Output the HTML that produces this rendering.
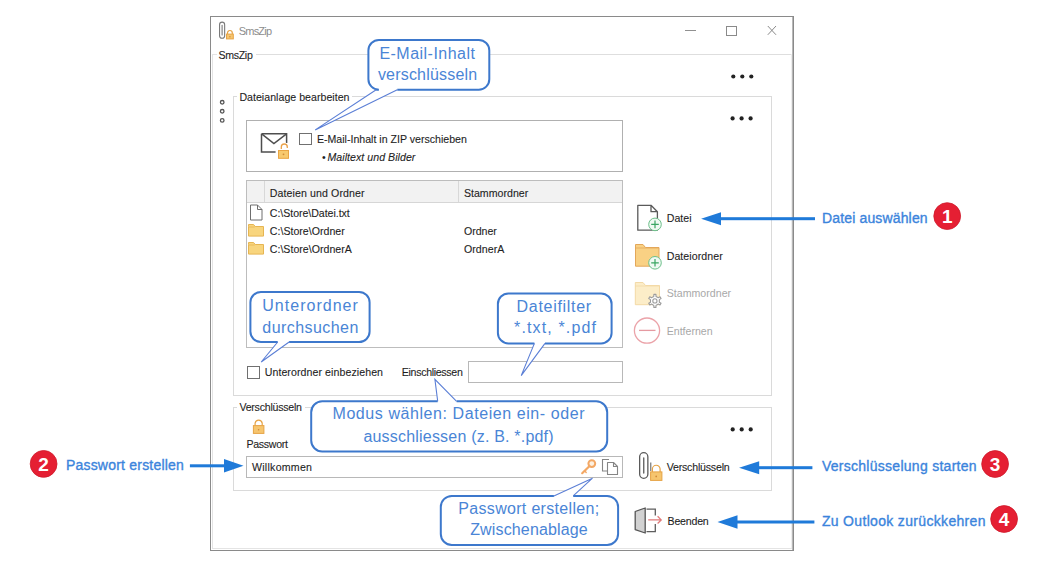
<!DOCTYPE html>
<html><head><meta charset="utf-8"><style>
html,body{margin:0;padding:0;background:#fff;width:1046px;height:572px;overflow:hidden}
.t{position:absolute;font-family:'Liberation Sans', sans-serif;line-height:1;white-space:pre}
svg{position:absolute;left:0;top:0}
</style></head><body>
<svg width="1046" height="572" viewBox="0 0 1046 572"><rect x="210" y="16" width="584" height="1" fill="#8a8a8a"/><rect x="210" y="550" width="584" height="1" fill="#8a8a8a"/><rect x="210" y="16" width="1" height="535" fill="#8a8a8a"/><rect x="793" y="16" width="1" height="535" fill="#8a8a8a"/><rect x="792" y="17" width="1" height="533" fill="#b8b8b8"/><rect x="212" y="54" width="5" height="1" fill="#e4e4e4"/><rect x="256" y="54" width="536" height="1" fill="#dedede"/><rect x="212" y="54" width="1" height="495" fill="#e4e4e4"/><rect x="791" y="54" width="1" height="495" fill="#eeeeee"/><rect x="212" y="548" width="580" height="1" fill="#e4e4e4"/><rect x="233" y="96" width="4" height="1" fill="#dadada"/><rect x="352" y="96" width="420" height="1" fill="#dadada"/><rect x="233" y="96" width="1" height="300" fill="#dadada"/><rect x="771" y="96" width="1" height="300" fill="#dadada"/><rect x="233" y="395" width="539" height="1" fill="#dadada"/><rect x="233" y="407" width="4" height="1" fill="#dadada"/><rect x="305" y="407" width="467" height="1" fill="#dadada"/><rect x="233" y="407" width="1" height="84" fill="#dadada"/><rect x="771" y="407" width="1" height="84" fill="#dadada"/><rect x="233" y="490" width="539" height="1" fill="#dadada"/><rect x="246" y="120" width="377" height="1" fill="#b0b0b0"/><rect x="246" y="171" width="377" height="1" fill="#b0b0b0"/><rect x="246" y="120" width="1" height="52" fill="#b0b0b0"/><rect x="622" y="120" width="1" height="52" fill="#b0b0b0"/><rect x="246" y="180" width="377" height="1" fill="#bdbdbd"/><rect x="246" y="347" width="377" height="1" fill="#bdbdbd"/><rect x="246" y="180" width="1" height="168" fill="#bdbdbd"/><rect x="622" y="180" width="1" height="168" fill="#bdbdbd"/><rect x="247" y="181" width="375" height="21" fill="#f2f2f2"/><rect x="247" y="202" width="375" height="1" fill="#d6d6d6"/><rect x="264" y="181" width="1" height="21" fill="#d8d8d8"/><rect x="458" y="181" width="1" height="21" fill="#d8d8d8"/><rect x="299" y="133" width="13" height="1" fill="#707070"/><rect x="299" y="144" width="13" height="1" fill="#707070"/><rect x="299" y="133" width="1" height="12" fill="#707070"/><rect x="311" y="133" width="1" height="12" fill="#707070"/><rect x="247" y="366" width="13" height="1" fill="#707070"/><rect x="247" y="378" width="13" height="1" fill="#707070"/><rect x="247" y="366" width="1" height="13" fill="#707070"/><rect x="259" y="366" width="1" height="13" fill="#707070"/><rect x="468" y="361" width="155" height="1" fill="#b8b8b8"/><rect x="468" y="382" width="155" height="1" fill="#b8b8b8"/><rect x="468" y="361" width="1" height="22" fill="#b8b8b8"/><rect x="622" y="361" width="1" height="22" fill="#b8b8b8"/><rect x="246" y="456" width="377" height="1" fill="#b8b8b8"/><rect x="246" y="477" width="377" height="1" fill="#b8b8b8"/><rect x="246" y="456" width="1" height="22" fill="#b8b8b8"/><rect x="622" y="456" width="1" height="22" fill="#b8b8b8"/><rect x="685" y="30" width="11" height="1" fill="#909090"/><rect x="726.5" y="26.5" width="10" height="9" fill="none" stroke="#8a8a8a" stroke-width="1"/><path d="M767.8 26 L776 34.8 M776 26 L767.8 34.8" stroke="#8a8a8a" stroke-width="1"/><circle cx="733.3" cy="76.5" r="2.1" fill="#222"/><circle cx="742.3" cy="76.5" r="2.1" fill="#222"/><circle cx="751.3" cy="76.5" r="2.1" fill="#222"/><circle cx="732.6" cy="118.4" r="2.1" fill="#222"/><circle cx="741.6" cy="118.4" r="2.1" fill="#222"/><circle cx="750.6" cy="118.4" r="2.1" fill="#222"/><circle cx="732.7" cy="429.4" r="2.1" fill="#222"/><circle cx="741.7" cy="429.4" r="2.1" fill="#222"/><circle cx="750.7" cy="429.4" r="2.1" fill="#222"/><circle cx="222.2" cy="102.3" r="1.8" fill="none" stroke="#555" stroke-width="1.3"/><circle cx="222.2" cy="111.3" r="1.8" fill="none" stroke="#555" stroke-width="1.3"/><circle cx="222.2" cy="120.4" r="1.8" fill="none" stroke="#555" stroke-width="1.3"/><path d="M224.65 24.70 V35.70 A2.55 2.55 0 0 1 219.55 35.70 V24.70 A2.55 2.55 0 0 1 224.65 24.70 Z" fill="none" stroke="#7a7a7a" stroke-width="1.1"/><path d="M222.10 25.38 V35.02" stroke="#7a7a7a" stroke-width="1.1" stroke-linecap="round"/><path d="M227.5 34.1 V32.9 A2.4 2.4 0 0 1 232.3 32.9 V34.1" fill="none" stroke="#e6a345" stroke-width="1.2"/><rect x="226.5" y="34.1" width="6.8" height="4.8" fill="#f6c56e" stroke="#e6a345" stroke-width="1"/><circle cx="229.9" cy="36.8" r="0.70" fill="#cf8a3a"/><path d="M261.5 133.8 H286.6 V143 M275.6 152 H261.5 V133.8" fill="none" stroke="#4e4e4e" stroke-width="1.5"/><path d="M262 134.2 L273.9 143.6 L286.2 134.2" fill="none" stroke="#4e4e4e" stroke-width="1.5"/><path d="M281.3 150 V147 A3 3 0 0 1 287.3 147 V148" fill="none" stroke="#fff" stroke-width="3"/><path d="M281.3 150 V147 A3 3 0 0 1 287.3 147 V148" fill="none" stroke="#eaa24a" stroke-width="1.3"/><rect x="277.8" y="149.8" width="11.4" height="9.2" fill="#f7c96e" stroke="#fff" stroke-width="1.6"/><rect x="278.5" y="150.5" width="10" height="7.8" fill="#f7c96e" stroke="#e9a544" stroke-width="1"/><circle cx="283.5" cy="154.3" r="0.9" fill="#d08a3a"/><path d="M250.5 205.0 H257.5 L262.0 209.5 V220.0 H250.5 Z M257.5 205.0 V209.5 H262.0" fill="#fff" stroke="#6e6e6e" stroke-width="1" stroke-linejoin="round"/><path d="M248.5 226.5 V224.5 H253.6 L255.2 226.5 H263.5 V236.1 H248.5 Z" fill="#f8d57e" stroke="#e6b552" stroke-width="1"/><path d="M248.5 227 H254.72" stroke="#e6b552" stroke-width="0.8"/><path d="M248.5 244.5 V242.5 H253.6 L255.2 244.5 H263.5 V254.1 H248.5 Z" fill="#f8d57e" stroke="#e6b552" stroke-width="1"/><path d="M248.5 245 H254.72" stroke="#e6b552" stroke-width="0.8"/><path d="M637.8 205.3 H651 L657.4 211.7 V230.2 H637.8 Z M651 205.3 V211.7 H657.4" fill="#fff" stroke="#5a5a5a" stroke-width="1.3" stroke-linejoin="round"/><circle cx="655" cy="224.4" r="6.3" fill="#f0f9f3" stroke="#6cc08a" stroke-width="1"/><path d="M651.2 224.4 H658.8 M655 220.6 V228.2" stroke="#3aa563" stroke-width="1.2"/><path d="M635.5 248 V244.5 H643 L645.5 247.5 H659 V266.2 H635.5 Z" fill="#f9d184" stroke="#e3a75a" stroke-width="1"/><path d="M635.5 248 H659" stroke="#e3a75a" stroke-width="0.8"/><circle cx="655" cy="262.8" r="6.3" fill="#f0f9f3" stroke="#6cc08a" stroke-width="1"/><path d="M651.2 262.8 H658.8 M655 259.0 V266.6" stroke="#3aa563" stroke-width="1.2"/><path d="M635.3 286 V282.5 H643 L645.5 285.5 H659.5 V304.7 H635.3 Z" fill="#fcedc8" stroke="#f3d9a6" stroke-width="1"/><path d="M635.3 286 H659.5" stroke="#f3d9a6" stroke-width="0.8"/><polygon points="652.70,297.09 653.79,296.44 653.87,294.38 655.93,294.38 656.01,296.44 657.10,297.09 658.21,297.70 660.03,296.75 661.06,298.53 659.32,299.63 659.30,300.90 659.32,302.17 661.06,303.27 660.03,305.05 658.21,304.10 657.10,304.71 656.01,305.36 655.93,307.42 653.87,307.42 653.79,305.36 652.70,304.71 651.59,304.10 649.77,305.05 648.74,303.27 650.48,302.17 650.50,300.90 650.48,299.63 648.74,298.53 649.77,296.75 651.59,297.70" fill="#fff" stroke="#9c9c9c" stroke-width="1.1" stroke-linejoin="round"/><circle cx="654.9" cy="300.9" r="2.1" fill="#fff" stroke="#9c9c9c" stroke-width="1.1"/><circle cx="647" cy="330.6" r="12.6" fill="#fff" stroke="#eba3a9" stroke-width="1.3"/><path d="M639 330.4 H655.5" stroke="#e59aa1" stroke-width="1.3"/><path d="M255.1 425.6 V423.1 A3.6 3.6 0 0 1 262.2 423.1 V425.6" fill="none" stroke="#e6a345" stroke-width="1.2"/><rect x="253.4" y="425.6" width="10.5" height="7.8" fill="#f6c56e" stroke="#e6a345" stroke-width="1"/><circle cx="258.6" cy="429.7" r="0.81" fill="#cf8a3a"/><circle cx="591.8" cy="463.6" r="3.4" fill="#fdf0e0" stroke="#f3a865" stroke-width="2"/><path d="M589.3 466.3 L582.2 473.2" stroke="#f3a865" stroke-width="2.2" stroke-linecap="round"/><path d="M584.6 470.8 L586.2 472.4" stroke="#f3a865" stroke-width="1.4" stroke-linecap="round"/><path d="M609 459.5 H602.5 V471 H607" fill="none" stroke="#858585" stroke-width="1.1"/><path d="M607.5 462.5 H613.5 L617.5 466.5 V474.5 H607.5 Z M613.5 462.5 V466.5 H617.5" fill="#fff" stroke="#858585" stroke-width="1.1" stroke-linejoin="round"/><path d="M647.85 456.75 V474.25 A4.10 4.10 0 0 1 639.65 474.25 V456.75 A4.10 4.10 0 0 1 647.85 456.75 Z" fill="none" stroke="#5a5a5a" stroke-width="1.3"/><path d="M643.75 457.94 V473.06" stroke="#5a5a5a" stroke-width="1.3" stroke-linecap="round"/><path d="M650.8 462.5 V471" stroke="#5a5a5a" stroke-width="1"/><path d="M652.4 471.9 V469.1 A3.8 3.8 0 0 1 660.1 469.1 V471.9" fill="none" stroke="#e6a345" stroke-width="1.2"/><rect x="650.6" y="471.9" width="11.3" height="8.5" fill="#f6c56e" stroke="#e6a345" stroke-width="1"/><circle cx="656.2" cy="476.4" r="0.86" fill="#cf8a3a"/><path d="M646.5 509.2 H655.3 V515.5 M655.3 524 V531.6 H646.5" fill="none" stroke="#5e5e5e" stroke-width="1.3"/><path d="M635.2 511.5 L645.2 508 V533 L635.2 529.6 Z" fill="#d2d2d2" stroke="#555" stroke-width="1.3" stroke-linejoin="round"/><path d="M648.2 519.9 H661 M657.6 516.3 L661.2 519.9 L657.6 523.5" fill="none" stroke="#e07a7a" stroke-width="1.3"/></svg>
<div class="t" style="left:238.7px;top:26px;font-size:11px;color:#8c8c8c;letter-spacing:-0.776px">SmsZip</div><div class="t" style="left:218.4px;top:50px;font-size:10.6px;color:#1e1e1e;letter-spacing:-0.301px;-webkit-text-stroke:0.1px #1e1e1e">SmsZip</div><div class="t" style="left:239.4px;top:92px;font-size:10.6px;color:#1e1e1e;letter-spacing:0.026px;-webkit-text-stroke:0.1px #1e1e1e">Dateianlage bearbeiten</div><div class="t" style="left:316.9px;top:134px;font-size:10.6px;color:#1e1e1e;-webkit-text-stroke:0.1px #1e1e1e">E-Mail-Inhalt in ZIP verschieben</div><div class="t" style="left:322.0px;top:152px;font-size:10.6px;color:#1e1e1e">•</div><div class="t" style="left:327.5px;top:152px;font-size:10.6px;color:#1e1e1e;font-style:italic;letter-spacing:0.041px;-webkit-text-stroke:0.1px #1e1e1e">Mailtext und Bilder</div><div class="t" style="left:269.8px;top:188px;font-size:10.6px;color:#1e1e1e;letter-spacing:0.102px;-webkit-text-stroke:0.1px #1e1e1e">Dateien und Ordner</div><div class="t" style="left:463.9px;top:188px;font-size:10.6px;color:#1e1e1e;letter-spacing:0.021px;-webkit-text-stroke:0.1px #1e1e1e">Stammordner</div><div class="t" style="left:269.8px;top:208px;font-size:10.6px;color:#1e1e1e;letter-spacing:-0.040px;-webkit-text-stroke:0.1px #1e1e1e">C:\Store\Datei.txt</div><div class="t" style="left:269.8px;top:226px;font-size:10.6px;color:#1e1e1e;letter-spacing:0.016px;-webkit-text-stroke:0.1px #1e1e1e">C:\Store\Ordner</div><div class="t" style="left:269.8px;top:244px;font-size:10.6px;color:#1e1e1e;letter-spacing:0.010px;-webkit-text-stroke:0.1px #1e1e1e">C:\Store\OrdnerA</div><div class="t" style="left:463.9px;top:226px;font-size:10.6px;color:#1e1e1e;-webkit-text-stroke:0.1px #1e1e1e">Ordner</div><div class="t" style="left:463.9px;top:244px;font-size:10.6px;color:#1e1e1e;letter-spacing:0.076px;-webkit-text-stroke:0.1px #1e1e1e">OrdnerA</div><div class="t" style="left:264.7px;top:367px;font-size:10.6px;color:#1e1e1e;letter-spacing:0.077px;-webkit-text-stroke:0.1px #1e1e1e">Unterordner einbeziehen</div><div class="t" style="left:401.8px;top:367px;font-size:10.6px;color:#1e1e1e;letter-spacing:-0.315px;-webkit-text-stroke:0.1px #1e1e1e">Einschliessen</div><div class="t" style="left:239.4px;top:402px;font-size:10.6px;color:#1e1e1e;letter-spacing:-0.231px;-webkit-text-stroke:0.1px #1e1e1e">Verschlüsseln</div><div class="t" style="left:246.5px;top:439px;font-size:10.6px;color:#1e1e1e;letter-spacing:-0.297px;-webkit-text-stroke:0.1px #1e1e1e">Passwort</div><div class="t" style="left:252.0px;top:462px;font-size:10.6px;color:#1e1e1e;letter-spacing:0.257px;-webkit-text-stroke:0.1px #1e1e1e">Willkommen</div><div class="t" style="left:666.7px;top:213px;font-size:10.6px;color:#1e1e1e;letter-spacing:0.066px;-webkit-text-stroke:0.1px #1e1e1e">Datei</div><div class="t" style="left:666.7px;top:251px;font-size:10.6px;color:#1e1e1e;letter-spacing:0.064px;-webkit-text-stroke:0.1px #1e1e1e">Dateiordner</div><div class="t" style="left:666.7px;top:288px;font-size:10.6px;color:#a8a8a8;letter-spacing:0.021px">Stammordner</div><div class="t" style="left:666.7px;top:326px;font-size:10.6px;color:#a8a8a8">Entfernen</div><div class="t" style="left:666.7px;top:462px;font-size:10.6px;color:#1e1e1e;letter-spacing:-0.198px;-webkit-text-stroke:0.1px #1e1e1e">Verschlüsseln</div><div class="t" style="left:667.6px;top:516px;font-size:10.6px;color:#1e1e1e;letter-spacing:-0.220px;-webkit-text-stroke:0.1px #1e1e1e">Beenden</div>
<svg width="1046" height="572" viewBox="0 0 1046 572"><circle cx="947.2" cy="216.1" r="13.4" fill="#e51f33" stroke="#cf1a2c" stroke-width="0.8"/><circle cx="43.6" cy="463.9" r="13.4" fill="#e51f33" stroke="#cf1a2c" stroke-width="0.8"/><circle cx="995.1" cy="464.0" r="13.4" fill="#e51f33" stroke="#cf1a2c" stroke-width="0.8"/><circle cx="1004.1" cy="519.0" r="13.4" fill="#e51f33" stroke="#cf1a2c" stroke-width="0.8"/><path d="M378.9 40 H478.8 A10.5 10.5 0 0 1 489.3 50.5 V79.2 A10.5 10.5 0 0 1 478.8 89.7 H397.3 L315.2 129.9 L376.2 89.7 H378.9 A10.5 10.5 0 0 1 368.4 79.2 V50.5 A10.5 10.5 0 0 1 378.9 40 Z" fill="#fff"/><path d="M376.2 89.7 H378.9 A10.5 10.5 0 0 1 368.4 79.2 V50.5 A10.5 10.5 0 0 1 378.9 40 H478.8 A10.5 10.5 0 0 1 489.3 50.5 V79.2 A10.5 10.5 0 0 1 478.8 89.7 H397.3" fill="none" stroke="#3d78cc" stroke-width="2"/><path d="M397.3 89.7 L315.2 129.9 L376.2 89.7" fill="none" stroke="#5b7fd6" stroke-width="1.1" stroke-linejoin="miter"/><path d="M260.9 291.9 H359.1 A10.5 10.5 0 0 1 369.6 302.4 V331.5 A10.5 10.5 0 0 1 359.1 342 H289.1 L261.2 362.0 L277.7 342 H260.9 A10.5 10.5 0 0 1 250.4 331.5 V302.4 A10.5 10.5 0 0 1 260.9 291.9 Z" fill="#fff"/><path d="M277.7 342 H260.9 A10.5 10.5 0 0 1 250.4 331.5 V302.4 A10.5 10.5 0 0 1 260.9 291.9 H359.1 A10.5 10.5 0 0 1 369.6 302.4 V331.5 A10.5 10.5 0 0 1 359.1 342 H289.1" fill="none" stroke="#3d78cc" stroke-width="2"/><path d="M289.1 342 L261.2 362.0 L277.7 342" fill="none" stroke="#5b7fd6" stroke-width="1.1" stroke-linejoin="miter"/><path d="M508.4 293.4 H601.1 A10.5 10.5 0 0 1 611.6 303.9 V332.9 A10.5 10.5 0 0 1 601.1 343.4 H545 L521.2 375.6 L534.4 343.4 H508.4 A10.5 10.5 0 0 1 497.9 332.9 V303.9 A10.5 10.5 0 0 1 508.4 293.4 Z" fill="#fff"/><path d="M534.4 343.4 H508.4 A10.5 10.5 0 0 1 497.9 332.9 V303.9 A10.5 10.5 0 0 1 508.4 293.4 H601.1 A10.5 10.5 0 0 1 611.6 303.9 V332.9 A10.5 10.5 0 0 1 601.1 343.4 H545" fill="none" stroke="#3d78cc" stroke-width="2"/><path d="M545 343.4 L521.2 375.6 L534.4 343.4" fill="none" stroke="#5b7fd6" stroke-width="1.1" stroke-linejoin="miter"/><path d="M322.2 401.3 H437.7 L434.9 379.4 L456.6 401.3 H596.2 A11 11 0 0 1 607.2 412.3 V440.4 A11 11 0 0 1 596.2 451.4 H322.2 A11 11 0 0 1 311.2 440.4 V412.3 A11 11 0 0 1 322.2 401.3 Z" fill="#fff"/><path d="M456.6 401.3 H596.2 A11 11 0 0 1 607.2 412.3 V440.4 A11 11 0 0 1 596.2 451.4 H322.2 A11 11 0 0 1 311.2 440.4 V412.3 A11 11 0 0 1 322.2 401.3 H437.7" fill="none" stroke="#3d78cc" stroke-width="2"/><path d="M437.7 401.3 L434.9 379.4 L456.6 401.3" fill="none" stroke="#5b7fd6" stroke-width="1.1" stroke-linejoin="miter"/><path d="M451.8 495.9 H553.9 L592.5 478.2 L573.2 495.9 H607.1 A11 11 0 0 1 618.1 506.9 V534 A11 11 0 0 1 607.1 545 H451.8 A11 11 0 0 1 440.8 534 V506.9 A11 11 0 0 1 451.8 495.9 Z" fill="#fff"/><path d="M573.2 495.9 H607.1 A11 11 0 0 1 618.1 506.9 V534 A11 11 0 0 1 607.1 545 H451.8 A11 11 0 0 1 440.8 534 V506.9 A11 11 0 0 1 451.8 495.9 H553.9" fill="none" stroke="#3d78cc" stroke-width="2"/><path d="M553.9 495.9 L592.5 478.2 L573.2 495.9" fill="none" stroke="#5b7fd6" stroke-width="1.1" stroke-linejoin="miter"/><rect x="720" y="217.2" width="95" height="3" fill="#1f7ad9"/><polygon points="701.1,218.7 721,212.25 721,225.14999999999998" fill="#1f7ad9"/><rect x="189.9" y="464.3" width="35.099999999999994" height="3" fill="#1f7ad9"/><polygon points="243.5,465.8 224,459.1 224,472.5" fill="#1f7ad9"/><rect x="758.2" y="466.2" width="54.19999999999993" height="3" fill="#1f7ad9"/><polygon points="739.1,467.7 759.2,461.15 759.2,474.25" fill="#1f7ad9"/><rect x="736.5" y="520.5" width="77.89999999999998" height="3" fill="#1f7ad9"/><polygon points="717.5,522.0 737.5,515.3 737.5,528.7" fill="#1f7ad9"/></svg>
<div class="t" style="left:379.4px;top:46px;font-size:16px;color:#4a85d6;letter-spacing:0.482px">E-Mail-Inhalt</div><div class="t" style="left:377.9px;top:67px;font-size:16px;color:#4a85d6;letter-spacing:0.197px">verschlüsseln</div><div class="t" style="left:262.3px;top:298px;font-size:16px;color:#4a85d6;letter-spacing:1.012px">Unterordner</div><div class="t" style="left:262.3px;top:320px;font-size:16px;color:#4a85d6;letter-spacing:0.438px">durchsuchen</div><div class="t" style="left:516.6px;top:299px;font-size:16px;color:#4a85d6;letter-spacing:0.692px">Dateifilter</div><div class="t" style="left:514.1px;top:320px;font-size:16px;color:#4a85d6;letter-spacing:1.130px">*.txt, *.pdf</div><div class="t" style="left:332.5px;top:406px;font-size:16px;color:#4a85d6;letter-spacing:0.573px">Modus wählen: Dateien ein- oder</div><div class="t" style="left:363.4px;top:429px;font-size:16px;color:#4a85d6;letter-spacing:0.201px">ausschliessen (z. B. *.pdf)</div><div class="t" style="left:458.3px;top:501px;font-size:16px;color:#4a85d6;letter-spacing:0.318px">Passwort erstellen;</div><div class="t" style="left:470.2px;top:522px;font-size:16px;color:#4a85d6;letter-spacing:0.144px">Zwischenablage</div><div class="t" style="left:822.1px;top:211px;font-size:14px;color:#3b84dc;letter-spacing:0.142px;-webkit-text-stroke:0.35px #3b84dc">Datei auswählen</div><div class="t" style="left:65.9px;top:458px;font-size:14px;color:#3b84dc;letter-spacing:0.212px;-webkit-text-stroke:0.35px #3b84dc">Passwort erstellen</div><div class="t" style="left:821.9px;top:459px;font-size:14px;color:#3b84dc;letter-spacing:0.275px;-webkit-text-stroke:0.35px #3b84dc">Verschlüsselung starten</div><div class="t" style="left:821.9px;top:514px;font-size:14px;color:#3b84dc;letter-spacing:0.327px;-webkit-text-stroke:0.35px #3b84dc">Zu Outlook zurückkehren</div><div class="t" style="left:941.9px;top:207px;font-size:19px;color:#ffffff;font-weight:bold">1</div><div class="t" style="left:38.3px;top:455px;font-size:19px;color:#ffffff;font-weight:bold">2</div><div class="t" style="left:989.8px;top:455px;font-size:19px;color:#ffffff;font-weight:bold">3</div><div class="t" style="left:998.8px;top:510px;font-size:19px;color:#ffffff;font-weight:bold">4</div>
</body></html>
